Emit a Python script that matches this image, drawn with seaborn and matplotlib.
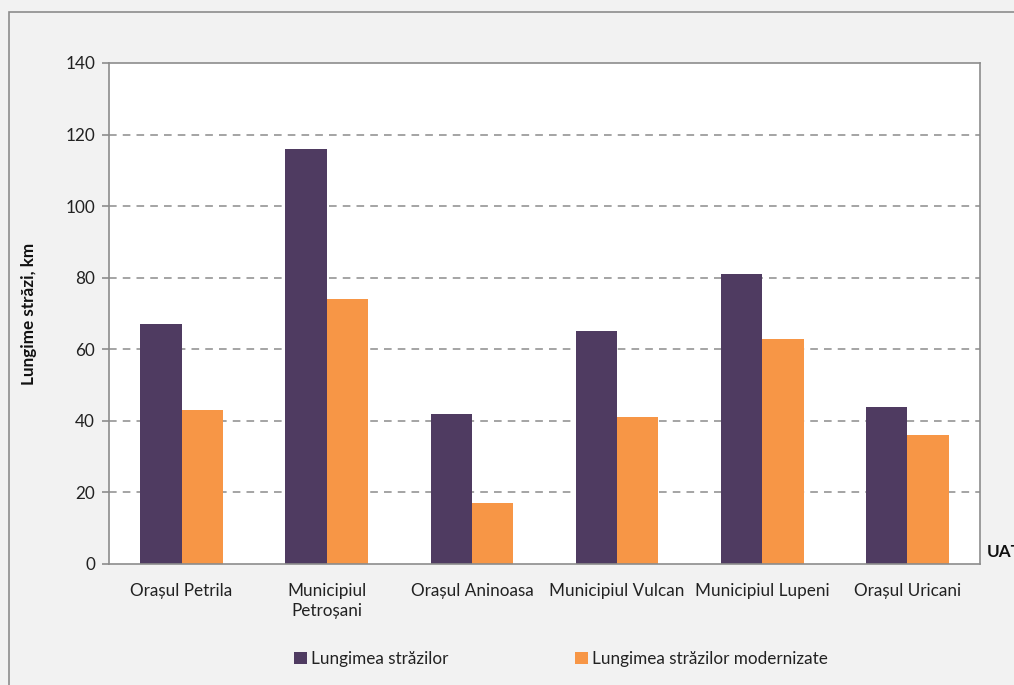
import matplotlib
matplotlib.use("Agg")
import matplotlib.pyplot as plt
import seaborn as sns
import pandas as pd
from matplotlib.patches import Rectangle, Patch

categories = ["Orașul Petrila", "Municipiul\nPetroșani", "Orașul Aninoasa",
              "Municipiul Vulcan", "Municipiul Lupeni", "Orașul Uricani"]
series_names = ["Lungimea străzilor", "Lungimea străzilor modernizate"]
lungime = [67, 116, 42, 65, 81, 44]
modernizate = [43, 74, 17, 41, 63, 36]
yticks = [0, 20, 40, 60, 80, 100, 120, 140]
colors = ["#4f3b61", "#f79646"]

df = pd.DataFrame({
    "UAT": categories * 2,
    "Serie": [series_names[0]] * len(categories) + [series_names[1]] * len(categories),
    "km": lungime + modernizate,
})

sns.set_theme(style="white")
plt.rcParams["font.family"] = ["Lato", "DejaVu Sans"]

FS = 12.3
W, H = 1014, 685
fig = plt.figure(figsize=(W / 100, H / 100), dpi=100)
fig.patch.set_facecolor("#f2f2f2")

# outer chart border (extends beyond figure on right/bottom)
fig.patches.append(Rectangle((9 / W, -0.1), 1.2, 1 - 12 / H + 0.1, transform=fig.transFigure,
                             fill=False, edgecolor="#8c8c8c", linewidth=1.2, zorder=0))

ax = fig.add_axes([109 / W, 1 - 564 / H, (980 - 109) / W, (564 - 63) / H])
ax.set_facecolor("white")

sns.barplot(data=df, x="UAT", y="km", hue="Serie", palette=colors, width=0.57,
            gap=0, saturation=1, ax=ax, legend=False, edgecolor="none")

ax.set_ylim(0, 140)
ax.set_xlim(-0.5, len(categories) - 0.5)
ax.set_yticks(yticks)
ax.set_yticklabels([str(v) for v in yticks], fontsize=FS, color="#222222")
ax.set_xticks(range(len(categories)))
ax.set_xticklabels(categories, fontsize=FS, color="#222222", linespacing=1.3)
ax.tick_params(axis="x", which="major", length=0, pad=14)
ax.set_xticks([i - 0.5 for i in range(len(categories) + 1)], minor=True)
ax.tick_params(axis="x", which="minor", length=5, color="#8c8c8c", width=1.2, direction="out")
ax.tick_params(axis="y", length=5, color="#8c8c8c", width=1.2, direction="out", pad=5)
ax.tick_params(axis="both", bottom=True, left=True)

for v in yticks[1:-1]:
    ax.axhline(v, color="#8c8c8c", linestyle=(0, (5, 4)), linewidth=1.1, zorder=0.5)
ax.set_axisbelow(True)

for s in ax.spines.values():
    s.set_visible(True)
    s.set_color("#8c8c8c")
    s.set_linewidth(1.2)

ax.set_xlabel("")
ax.set_ylabel("Lungime străzi, km", fontsize=FS, fontweight="bold", color="#111111", labelpad=20)

fig.text(987 / W, 1 - 552 / H, "UAT", fontsize=FS, fontweight="bold", color="#111111",
         ha="left", va="center")

anchors = [294, 575]
for c, name, xa in zip(colors, series_names, anchors):
    leg = fig.legend([Patch(facecolor=c, edgecolor="none")], [name], loc="center left",
                     bbox_to_anchor=(xa / W, 1 - 659 / H), frameon=False, fontsize=FS,
                     handlelength=0.75, handleheight=0.75, handletextpad=0.25,
                     borderpad=0, borderaxespad=0)
    for t in leg.get_texts():
        t.set_color("#222222")

fig.savefig("out.png", dpi=100, facecolor=fig.get_facecolor())
